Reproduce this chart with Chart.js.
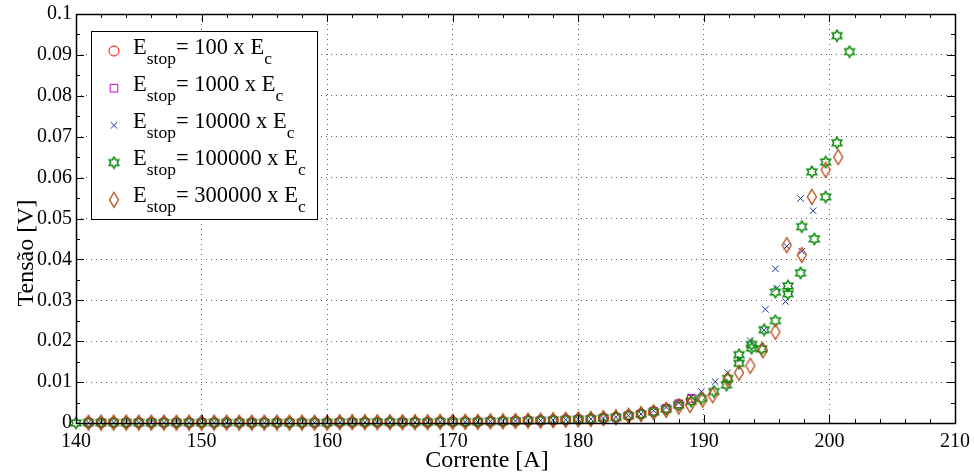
<!DOCTYPE html>
<html>
<head>
<meta charset="utf-8">
<script src="https://cdn.jsdelivr.net/npm/chart.js@4.4.1/dist/chart.umd.min.js"></script>
<style>
    html, body { margin: 0; padding: 0; background: #fff; }
</style>
</head>
<body>
<canvas id="scatterChart" width="974" height="473"></canvas>
<script>
// shared low-current part (all runs overlap there)
const baseCurrent = [
    141, 142, 143, 144, 145, 146, 147, 148, 149, 150,
    151, 152, 153, 154, 155, 156, 157, 158, 159, 160,
    161, 162, 163, 164, 165, 166, 167, 168, 169, 170,
    171, 172, 173, 174, 175, 176, 177, 178, 179, 180,
    181, 182, 183, 184, 185
];
const baseVoltage = [
    0.0001, 0.0001, 0.0001, 0.0001, 0.0001, 0.0001, 0.0001, 0.0001, 0.0001, 0.0001,
    0.0001, 0.0001, 0.0001, 0.0001, 0.0001, 0.0001, 0.0001, 0.0001, 0.0001, 0.0001,
    0.0002, 0.0002, 0.0002, 0.0002, 0.0002, 0.0002, 0.0002, 0.0002, 0.0003, 0.0003,
    0.0003, 0.0003, 0.0004, 0.0004, 0.0005, 0.0006, 0.0006, 0.0007, 0.0008, 0.0009,
    0.001, 0.0012, 0.0014, 0.0018, 0.0022
];

// upper part of each run
const circleCurrent = [186, 187, 188, 189];
const circleVoltage = [0.0027, 0.0034, 0.0045, 0.0057];

const squareCurrent = [186, 187, 188, 189];
const squareVoltage = [0.0029, 0.0036, 0.0047, 0.006];

const crossCurrent = [186, 187, 188, 189, 189.8, 190.9, 191.9, 192.9, 193.7, 194.8,
    194.9, 195.7, 195.8, 196.5, 196.6, 197.8, 197.7, 198.7];
const crossVoltage = [0.003, 0.0038, 0.0049, 0.0064, 0.0077, 0.0101, 0.0123, 0.0156, 0.0201, 0.0227,
    0.0278, 0.0377, 0.0329, 0.0297, 0.0432, 0.042, 0.0549, 0.0519];

const starCurrent = [140, 186, 187, 188, 189, 189.8, 190.8, 191.8, 191.9, 192.8, 192.8,
    193.8, 193.8, 194.6, 194.8, 195.7, 195.7, 196.7, 196.7, 197.7, 197.8,
    198.6, 198.8, 199.7, 199.7, 200.6, 200.6, 201.6];
const starVoltage = [0, 0.0027, 0.0034, 0.0044, 0.0053, 0.006, 0.0077, 0.0093, 0.0109, 0.0146, 0.0167,
    0.0183, 0.0192, 0.0181, 0.0228, 0.025, 0.032, 0.0316, 0.0335, 0.0367, 0.048,
    0.0614, 0.045, 0.0553, 0.0638, 0.0685, 0.0947, 0.0908];

const diamondCurrent = [186, 187, 188, 188.9, 189.9, 190.7, 191.9, 192.8, 193.7, 194.7,
    195.7, 196.6, 197.8, 198.6, 199.7, 200.7];
const diamondVoltage = [0.0026, 0.0032, 0.004, 0.0044, 0.0057, 0.0068, 0.0106, 0.0123, 0.014, 0.0178,
    0.0223, 0.0435, 0.0411, 0.0553, 0.0619, 0.065];

const stopFactors = ['100', '1000', '10000', '100000', '300000'];
const xTicks = { min: 140, max: 210, step: 10, minor: 2 };
const yTicks = { min: 0, max: 0.1, step: 0.01, minor: 0.005 };
const xTitle = 'Corrente [A]';
const yTitle = 'Tensão [V]';

const serif = "'Liberation Serif', 'DejaVu Serif', serif";
const colors = ['#ff0000', '#cc00cc', '#1f32a0', '#0c8c0c', '#b94614'];

function toPoints(xs, ys) {
    return xs.map((x, i) => ({ x: x, y: ys[i] }));
}

// hexagram marker (matlab 'h')
function hexagram(color) {
    const c = document.createElement('canvas');
    c.width = 14; c.height = 14;
    const g = c.getContext('2d');
    const R = 5.6, r = R / Math.sqrt(3);
    g.beginPath();
    for (let k = 0; k < 12; k++) {
        const ang = -Math.PI / 2 + k * Math.PI / 6;
        const rad = k % 2 === 0 ? R : r;
        const px = 7 + rad * Math.cos(ang), py = 7 + rad * Math.sin(ang);
        if (k === 0) g.moveTo(px, py); else g.lineTo(px, py);
    }
    g.closePath();
    g.strokeStyle = color;
    g.lineWidth = 1.5;
    g.stroke();
    return c;
}

// tall diamond marker (matlab 'd')
function diamond(color) {
    const c = document.createElement('canvas');
    c.width = 12; c.height = 18;
    const g = c.getContext('2d');
    g.beginPath();
    g.moveTo(6, 1.5);
    g.lineTo(10.5, 9);
    g.lineTo(6, 16.5);
    g.lineTo(1.5, 9);
    g.closePath();
    g.strokeStyle = color;
    g.lineWidth = 1.3;
    g.stroke();
    return c;
}

const markerStyles = [
    { pointStyle: 'circle', radius: 5 },
    { pointStyle: 'rect', radius: 5.4 },
    { pointStyle: 'crossRot', radius: 4.6 },
    { pointStyle: hexagram(colors[3]), radius: 6 },
    { pointStyle: diamond(colors[4]), radius: 6 }
];

const seriesPoints = [
    toPoints(baseCurrent.concat(circleCurrent), baseVoltage.concat(circleVoltage)),
    toPoints(baseCurrent.concat(squareCurrent), baseVoltage.concat(squareVoltage)),
    toPoints(baseCurrent.concat(crossCurrent), baseVoltage.concat(crossVoltage)),
    toPoints(starCurrent.slice(0, 1).concat(baseCurrent, starCurrent.slice(1)),
        starVoltage.slice(0, 1).concat(baseVoltage, starVoltage.slice(1))),
    toPoints(baseCurrent.concat(diamondCurrent), baseVoltage.concat(diamondVoltage))
];

// box + inward ticks on all four sides, plus axis titles
const frameTicks = {
    id: 'frameTicks',
    afterDatasetsDraw(chart) {
        const { ctx, chartArea: a, scales: { x, y } } = chart;
        ctx.save();
        ctx.strokeStyle = '#000';
        ctx.lineWidth = 1;
        ctx.beginPath();
        for (let v = xTicks.min; v <= xTicks.max + 1e-9; v += xTicks.minor) {
            const px = Math.round(x.getPixelForValue(v)) + 0.5;
            const major = Math.abs(v % xTicks.step) < 1e-6;
            const len = major ? 8 : 4;
            ctx.moveTo(px, a.bottom); ctx.lineTo(px, a.bottom - len);
            ctx.moveTo(px, a.top); ctx.lineTo(px, a.top + len);
        }
        for (let k = 0; k <= Math.round((yTicks.max - yTicks.min) / yTicks.minor); k++) {
            const v = yTicks.min + k * yTicks.minor;
            const py = Math.round(y.getPixelForValue(v)) + 0.5;
            const len = k % 2 === 0 ? 8 : 4;
            ctx.moveTo(a.left, py); ctx.lineTo(a.left + len, py);
            ctx.moveTo(a.right, py); ctx.lineTo(a.right - len, py);
        }
        ctx.stroke();
        ctx.lineWidth = 1.5;
        ctx.strokeRect(Math.round(a.left) + 0.5, Math.round(a.top) + 0.5,
            Math.round(a.right - a.left), Math.round(a.bottom - a.top));

        // titles sit a bit off-centre in the original figure
        ctx.fillStyle = '#000';
        ctx.font = '24px ' + serif;
        ctx.textAlign = 'center';
        ctx.textBaseline = 'middle';
        ctx.fillText(xTitle, 487, 461);
        ctx.translate(27, 253);
        ctx.rotate(-Math.PI / 2);
        ctx.fillText(yTitle, 0, 0);
        ctx.restore();
    }
};

// legend with subscripts
const subLegend = {
    id: 'subLegend',
    afterDraw(chart) {
        const ctx = chart.ctx;
        const box = { left: 91, top: 31, width: 226, height: 188 };
        ctx.save();
        ctx.fillStyle = '#fff';
        ctx.fillRect(box.left, box.top, box.width, box.height);
        ctx.strokeStyle = '#000';
        ctx.lineWidth = 1;
        ctx.strokeRect(box.left + 0.5, box.top + 0.5, box.width, box.height);

        const bigFont = '22.5px ' + serif;
        const smallFont = '17.5px ' + serif;
        stopFactors.forEach((factor, i) => {
            const cy = 51 + i * 37.2;
            const ds = chart.data.datasets[i];
            ctx.strokeStyle = colors[i];
            ctx.fillStyle = 'rgba(0,0,0,0)';
            ctx.lineWidth = 1;
            Chart.helpers.drawPoint(ctx, {
                pointStyle: ds.pointStyle, radius: ds.pointRadius, rotation: 0, borderWidth: 1
            }, 114, cy);

            const base = cy + 2.5;
            let tx = 133;
            ctx.fillStyle = '#000';
            ctx.textBaseline = 'alphabetic';
            ctx.textAlign = 'left';
            ctx.font = bigFont;
            ctx.fillText('E', tx, base);
            tx += ctx.measureText('E').width;
            ctx.font = smallFont;
            ctx.fillText('stop', tx, base + 10);
            tx += ctx.measureText('stop').width;
            ctx.font = bigFont;
            const mid = '= ' + factor + ' x E';
            ctx.fillText(mid, tx, base);
            tx += ctx.measureText(mid).width;
            ctx.font = smallFont;
            ctx.fillText('c', tx, base + 10);
        });
        ctx.restore();
    }
};

const datasets = seriesPoints.map((pts, i) => ({
    label: 'Estop= ' + stopFactors[i] + ' x Ec',
    data: pts,
    showLine: false,
    pointStyle: markerStyles[i].pointStyle,
    pointRadius: markerStyles[i].radius,
    pointBorderWidth: 1,
    pointBorderColor: colors[i],
    pointBackgroundColor: 'rgba(0,0,0,0)',
    borderColor: colors[i],
    backgroundColor: 'rgba(0,0,0,0)',
    clip: false,
    order: 4 - i
}));

const gridOpts = { color: '#666', lineWidth: 1, drawTicks: false };

new Chart(document.getElementById('scatterChart'), {
    type: 'scatter',
    data: { datasets: datasets },
    options: {
        responsive: false,
        animation: false,
        layout: { padding: { top: 14, right: 19, bottom: 0, left: 0 } },
        plugins: { legend: { display: false }, tooltip: { enabled: false } },
        scales: {
            x: {
                type: 'linear',
                min: xTicks.min,
                max: xTicks.max,
                grid: gridOpts,
                border: { display: false, dash: [1, 4] },
                ticks: {
                    stepSize: xTicks.step,
                    color: '#000',
                    padding: 7,
                    maxRotation: 0,
                    font: { family: serif, size: 20 }
                },
                afterFit: scale => {
                    scale.height = 50;
                    scale.paddingLeft = 0;
                    scale.paddingRight = 0;
                }
            },
            y: {
                type: 'linear',
                min: yTicks.min,
                max: yTicks.max,
                grid: gridOpts,
                border: { display: false, dash: [1, 4] },
                ticks: {
                    stepSize: yTicks.step,
                    color: '#000',
                    padding: 4,
                    font: { family: serif, size: 20 },
                    callback: v => String(Number(v.toFixed(3)))
                },
                afterFit: scale => {
                    scale.width = 76;
                    scale.paddingTop = 0;
                    scale.paddingBottom = 0;
                }
            }
        }
    },
    plugins: [frameTicks, subLegend]
});
</script>
</body>
</html>
